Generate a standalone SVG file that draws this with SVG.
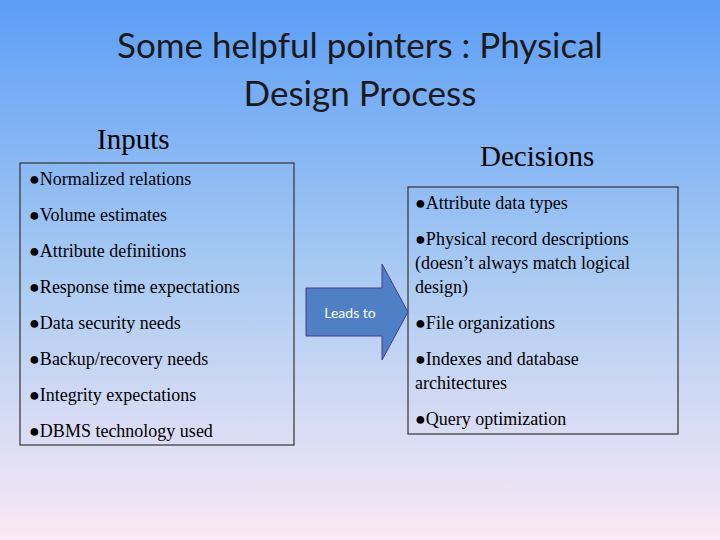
<svg xmlns="http://www.w3.org/2000/svg" width="720" height="540" viewBox="0 0 720 540">
<defs>
<linearGradient id="bg" x1="0" y1="0" x2="0" y2="1">
<stop offset="0" stop-color="#5c9ef6"/>
<stop offset="0.5" stop-color="#a8caf2"/>
<stop offset="1" stop-color="#fbe9f5"/>
</linearGradient>
<style>
.t{font-family:Lato,"Open Sans",sans-serif;font-size:35px;fill:#1a1a1a;text-anchor:middle}
.h{font-family:"Liberation Serif",serif;font-size:29px;fill:#000}
.b{font-family:"Liberation Serif",serif;font-size:18px;fill:#000}
.box{fill:none;stroke:#333;stroke-width:1.2}
</style>
</defs>
<rect width="720" height="540" fill="url(#bg)"/>
<text class="t" x="360" y="58">Some helpful pointers : Physical</text>
<text class="t" x="360" y="106">Design Process</text>
<g id="inputs">
<text class="h" x="97" y="149">Inputs</text>
<rect class="box" x="20" y="163" width="274" height="282"/>
<text class="b" x="29" y="185">●Normalized relations</text>
<text class="b" x="29" y="221">●Volume estimates</text>
<text class="b" x="29" y="257">●Attribute definitions</text>
<text class="b" x="29" y="293">●Response time expectations</text>
<text class="b" x="29" y="329">●Data security needs</text>
<text class="b" x="29" y="365">●Backup/recovery needs</text>
<text class="b" x="29" y="401">●Integrity expectations</text>
<text class="b" x="29" y="437">●DBMS technology used</text>
</g>
<g id="decisions">
<text class="h" x="480" y="166">Decisions</text>
<rect class="box" x="408" y="187" width="270" height="247"/>
<text class="b" x="415" y="209">●Attribute data types</text>
<text class="b" x="415" y="245">●Physical record descriptions</text>
<text class="b" x="415" y="269">(doesn’t always match logical</text>
<text class="b" x="415" y="293">design)</text>
<text class="b" x="415" y="329">●File organizations</text>
<text class="b" x="415" y="365">●Indexes and database</text>
<text class="b" x="415" y="389">architectures</text>
<text class="b" x="415" y="425">●Query optimization</text>
</g>
<g id="connectors">
<polygon points="306,288 382,288 382,264 408,312 382,360 382,336 306,336" fill="#4f7fc4" stroke="#4a3a8a" stroke-width="1"/>
<text x="350" y="318" font-family="Lato,'Open Sans',sans-serif" font-size="14" fill="#fff" text-anchor="middle">Leads to</text>
</g>
</svg>
